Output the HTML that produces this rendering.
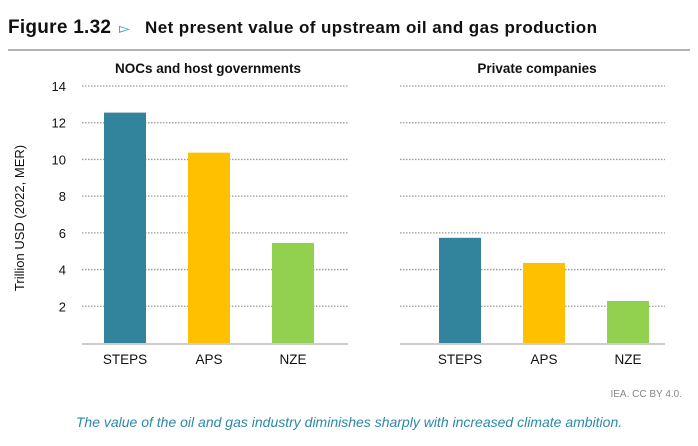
<!DOCTYPE html>
<html><head><meta charset="utf-8"><style>
body{margin:0;width:698px;height:446px;background:#fff;font-family:"Liberation Sans",sans-serif;overflow:hidden}
</style></head><body>
<svg width="698" height="446" style="position:absolute;left:0;top:0">
<text x="8" y="33" font-size="19" font-weight="bold" fill="#111" textLength="103">Figure 1.32</text>
<text x="119" y="33" font-size="14" fill="#2e8fb0">▻</text>
<text x="145" y="33" font-size="17" font-weight="bold" fill="#111" textLength="452">Net present value of upstream oil and gas production</text>
<line x1="8" y1="50" x2="690" y2="50" stroke="#999" stroke-width="1.5"/>
<text transform="translate(24,218) rotate(-90)" text-anchor="middle" font-size="13" fill="#111">Trillion USD (2022, MER)</text>
<g id="chart"></g>
<text x="682" y="397" text-anchor="end" font-size="10" fill="#888">IEA. CC BY 4.0.</text>
<text x="349" y="427" text-anchor="middle" font-size="14" font-style="italic" fill="#2a8aa8">The value of the oil and gas industry diminishes sharply with increased climate ambition.</text>
</svg>
<script>
const categories=["STEPS","APS","NZE"];
const nocValues=[12.55,10.37,5.45];
const privateValues=[5.73,4.36,2.29];
const yTicks=[2,4,6,8,10,12,14];
const panelTitles=["NOCs and host governments","Private companies"];
const colors=["#31849b","#ffc000","#92d050"];
const NS="http://www.w3.org/2000/svg";
const g=document.getElementById('chart');
function y(v){return 343-v*(343-86)/14;}
function mk(t,a){const e=document.createElementNS(NS,t);for(const k in a)e.setAttribute(k,a[k]);g.appendChild(e);return e;}
yTicks.forEach(t=>{
  const l=mk('text',{x:66,y:y(t)+5,'text-anchor':'end','font-size':13,fill:'#111'});
  l.textContent=t;
  
  
});
const panels=[{x0:82,x1:348,c0:125,vals:nocValues,tx:208},{x0:400,x1:665,c0:460,vals:privateValues,tx:537}];
panels.forEach((p,pi)=>{
  const step=84;
  yTicks.forEach(t=>{
    const gl=mk('line',{x1:p.x0,x2:p.x1,y1:y(t),y2:y(t),stroke:'#999','stroke-width':1.3,'stroke-dasharray':'1.5,1.5'});
    
    
  });
  const tt=mk('text',{x:p.tx,y:73,'text-anchor':'middle','font-size':13.5,'font-weight':'bold',fill:'#111'});
  tt.textContent=panelTitles[pi];
  
  
  p.vals.forEach((v,i)=>{
    const cx=p.c0+step*i;
    const r=mk('rect',{x:cx-21,y:y(v),width:42,height:y(0)-y(v),fill:colors[i]});
    
    
    const lb=mk('text',{x:cx,y:364,'text-anchor':'middle','font-size':13.5,fill:'#111'});
    lb.textContent=categories[i];
    
    
  });
  const ax=mk('line',{x1:p.x0,x2:p.x1,y1:344,y2:344,stroke:'#ccc','stroke-width':2});
  
  
});
</script>
</body></html>
